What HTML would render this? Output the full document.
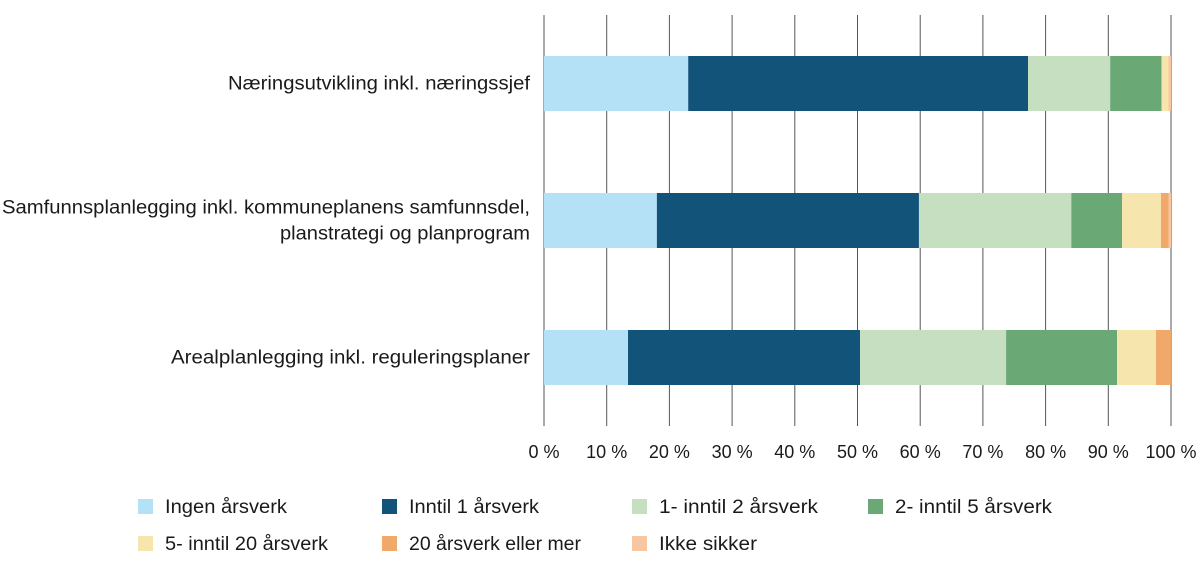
<!DOCTYPE html>
<html><head><meta charset="utf-8"><style>
body{margin:0;background:#fff;}
svg text{font-family:"Liberation Sans",sans-serif;fill:#1a1a1a;}
</style></head><body>
<svg id="c" width="1200" height="571" viewBox="0 0 1200 571"></svg>
<script>
const categories=["Næringsutvikling inkl. næringssjef","Samfunnsplanlegging inkl. kommuneplanens samfunnsdel,|planstrategi og planprogram","Arealplanlegging inkl. reguleringsplaner"];
const seriesNames=["Ingen årsverk","Inntil 1 årsverk","1- inntil 2 årsverk","2- inntil 5 årsverk","5- inntil 20 årsverk","20 årsverk eller mer","Ikke sikker"];
const seriesColors=["#b5e1f7","#12537a","#c6dfc0","#6aa876","#f6e6ae","#f0a96b","#f9c6a3"];
const ingen=[23.0,18.0,13.4];
const inntil1=[54.2,41.8,37.0];
const inntil2=[13.1,24.3,23.3];
const inntil5=[8.2,8.1,17.7];
const inntil20=[1.1,6.2,6.2];
const over20=[0,1.2,2.4];
const ikkeSikker=[0.4,0.4,0];
const ticks=[0,10,20,30,40,50,60,70,80,90,100];
const series=[ingen,inntil1,inntil2,inntil5,inntil20,over20,ikkeSikker];
const catLens=[[302],[528,250],[359]];
const legLens=[122,130,159,157,163,172,98];
const NS="http://www.w3.org/2000/svg";
const svg=document.getElementById('c');
const x0=544,x1=1171;
const xs=v=>x0+(x1-x0)*v/100;
const rowY=i=>56+i*137;
const barH=55;
function mk(t,a){const e=document.createElementNS(NS,t);for(const k in a)e.setAttribute(k,a[k]);svg.appendChild(e);return e;}
ticks.forEach(t=>{
  const l=mk('line',{x1:xs(t),x2:xs(t),y1:15,y2:426,stroke:'#555','stroke-width':1});
  
  
  const tx=mk('text',{x:xs(t),y:458,'text-anchor':'middle','font-size':18});
  tx.textContent=t+' %';
  
  
});
categories.forEach((c,i)=>{
  let acc=0;
  series.forEach((s,j)=>{
    const v=s[i];
    if(v>0){
      const r=mk('rect',{x:xs(acc),y:rowY(i),width:xs(acc+v)-xs(acc),height:barH,fill:seriesColors[j]});
      
      
    }
    acc+=v;
  });
  const lines=c.split('|');
  const cy=rowY(i)+barH/2+6;
  lines.forEach((ln,k)=>{
    const t=mk('text',{x:530,y:cy+(k-(lines.length-1)/2)*26,'text-anchor':'end','font-size':19,textLength:catLens[i][k],lengthAdjust:'spacingAndGlyphs'});
    t.textContent=ln;
    
    
  });
});
const legX=[138,382,632,868];
seriesNames.forEach((n,j)=>{
  const col=j%4,row=Math.floor(j/4);
  const y=499+row*37;
  const r=mk('rect',{x:legX[col],y:y,width:15,height:15,fill:seriesColors[j]});
  
  
  const t=mk('text',{x:legX[col]+27,y:y+14,'font-size':19,textLength:legLens[j],lengthAdjust:'spacingAndGlyphs'});
  t.textContent=n;
  
  
});
</script>
</body></html>
